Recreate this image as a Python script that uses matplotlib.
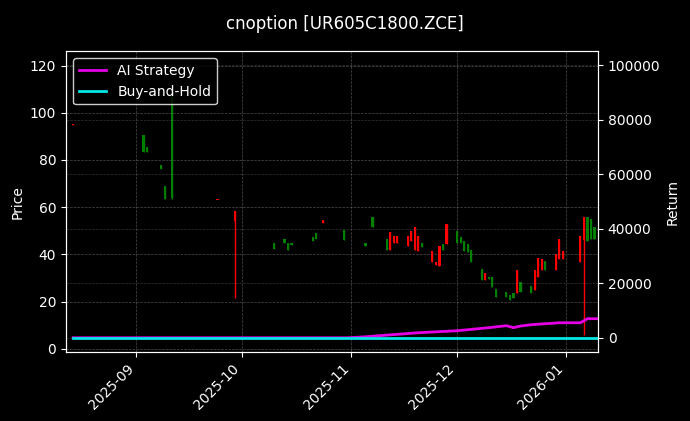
import matplotlib
matplotlib.use("Agg")
import matplotlib.pyplot as plt
import matplotlib.dates as mdates
import pandas as pd

dates = ["2025-08-14","2025-09-03","2025-09-04","2025-09-05","2025-09-08","2025-09-09","2025-09-11",
         "2025-09-24","2025-09-29","2025-10-10","2025-10-13","2025-10-14","2025-10-15","2025-10-21",
         "2025-10-22","2025-10-24","2025-10-30","2025-11-05","2025-11-07","2025-11-11","2025-11-12",
         "2025-11-13","2025-11-14","2025-11-17","2025-11-18","2025-11-19","2025-11-20","2025-11-21",
         "2025-11-24","2025-11-25","2025-11-26","2025-11-27","2025-11-28","2025-12-01","2025-12-02",
         "2025-12-03","2025-12-04","2025-12-05","2025-12-08","2025-12-09","2025-12-10","2025-12-11",
         "2025-12-12","2025-12-15","2025-12-16","2025-12-17","2025-12-18","2025-12-19","2025-12-22",
         "2025-12-23","2025-12-24","2025-12-25","2025-12-26","2025-12-29","2025-12-30","2025-12-31",
         "2026-01-05","2026-01-06","2026-01-07","2026-01-08","2026-01-09"]
opens  = [95.0,90.6,85.5,83.8,77.9,69.0,108.0,63.0,54.0,45.0,46.4,44.7,45.0,47.2,49.0,53.2,50.2,45.0,56.0,46.4,42.0,45.0,45.0,43.4,45.5,42.0,41.3,45.0,37.0,35.7,35.0,44.3,44.3,49.8,47.2,45.5,44.3,42.0,34.0,29.0,30.6,30.6,25.5,24.3,23.0,23.8,23.8,28.5,26.8,25.1,30.6,33.6,37.4,33.6,37.9,37.9,36.6,46.0,56.0,55.0,51.5]
closes = [95.3,83.4,83.4,83.6,76.2,63.4,64.0,63.2,58.3,42.5,45.0,41.7,43.8,45.5,46.4,54.5,46.0,43.4,51.5,42.0,49.4,48.0,47.7,47.7,49.8,51.5,47.7,43.0,41.3,37.0,43.4,42.0,52.8,45.0,45.0,41.3,40.9,37.0,29.0,32.3,29.4,26.4,22.0,22.0,20.8,21.7,33.2,24.3,23.8,33.6,38.7,37.9,33.2,40.0,46.4,41.3,47.7,55.7,45.5,46.4,46.4]
highs  = [95.3,90.6,85.5,83.8,77.9,69.0,109.0,63.2,58.3,45.0,46.4,44.7,45.0,47.2,49.0,54.5,50.2,45.0,56.0,46.4,49.4,48.0,47.7,47.7,49.8,51.5,47.7,45.0,41.3,37.0,43.4,44.3,52.8,49.8,47.2,45.5,44.3,42.0,34.0,32.3,30.6,30.6,25.5,24.3,23.0,23.8,33.2,28.5,26.8,33.6,38.7,37.9,37.4,40.0,46.4,41.3,47.7,55.7,56.0,55.0,51.5]
lows   = [95.0,83.4,83.4,83.6,76.2,63.4,63.4,63.0,21.7,42.5,45.0,41.7,43.8,45.5,46.4,53.2,46.0,43.4,51.5,42.0,42.0,45.0,45.0,43.4,45.5,42.0,41.3,43.0,37.0,35.7,35.0,42.0,44.3,45.0,45.0,41.3,40.9,37.0,29.0,29.0,29.4,26.4,22.0,22.0,20.8,21.7,23.8,24.3,23.8,25.1,30.6,33.6,33.2,33.6,37.9,37.9,36.6,6.0,45.5,46.4,46.4]

ret_dates = ["2025-08-14","2025-10-31","2025-11-05","2025-11-20","2025-12-01","2025-12-10","2025-12-15",
             "2025-12-17","2025-12-19","2025-12-22","2025-12-30","2026-01-05","2026-01-07","2026-01-10"]
ai_ret = [0,0,370,1850,2580,3700,4430,3700,4300,4800,5500,5500,7000,7000]
bh_ret = [0,0,0,0,0,0,0,0,0,0,0,0,0,0]

d = pd.to_datetime(dates)
rd = pd.to_datetime(ret_dates)

fig = plt.figure(figsize=(6.9, 4.21), dpi=100, facecolor="black")
ax = fig.add_axes([0.0957, 0.164, 0.771, 0.714], facecolor="black")
for xi, o, c, h, l in zip(d, opens, closes, highs, lows):
    col = "red" if c >= o else "green"
    ax.vlines(xi, l, h, color=col, linewidth=1)
    ax.bar(xi, abs(c - o) if abs(c - o) > 0.3 else 0.3, bottom=min(o, c), width=0.6, color=col)
ax.set_ylim(-1.3, 126)
ax.set_xlim(pd.Timestamp("2025-08-12"), pd.Timestamp("2026-01-10"))
ax.set_ylabel("Price", color="white")
ax.grid(True, color="gray", linestyle="--", linewidth=0.5, alpha=0.6)

ax2 = ax.twinx()
l1, = ax2.plot(rd, ai_ret, color="#e600e6", linewidth=2, label="AI Strategy")
l2, = ax2.plot(rd, bh_ret, color="#00e5e5", linewidth=2, label="Buy-and-Hold")
ax2.set_ylim(-5200, 105000)
ax2.set_ylabel("Return", color="white")
ax2.grid(True, color="gray", linestyle="--", linewidth=0.5, alpha=0.4)

for a in (ax, ax2):
    a.tick_params(colors="white")
    for s in a.spines.values():
        s.set_color("white")
ax.xaxis.set_major_locator(mdates.MonthLocator())
ax.xaxis.set_major_formatter(mdates.DateFormatter("%Y-%m"))
plt.setp(ax.get_xticklabels(), rotation=45, ha="right")

leg = ax2.legend(handles=[l1, l2], loc="upper left", facecolor="black", edgecolor="white")
for t in leg.get_texts():
    t.set_color("white")
fig.suptitle("cnoption [UR605C1800.ZCE]", color="white", y=0.965)
fig.savefig("out.png", facecolor="black")
